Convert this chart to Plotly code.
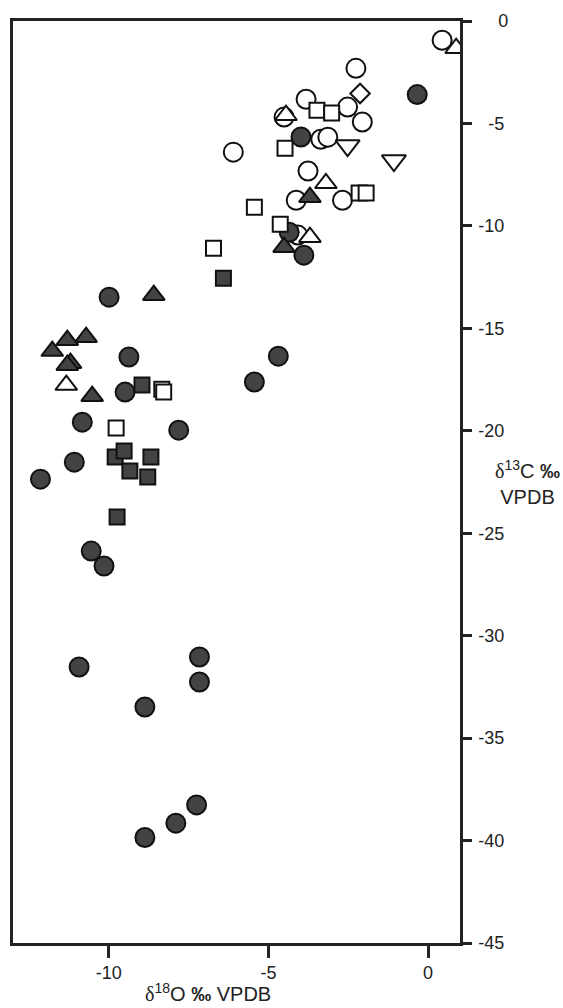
import plotly.graph_objects as go

# ---- data (δ18O, δ13C) ----
filled_circle_x = [-0.34, -3.98, -4.35, -3.89, -4.69, -5.44, -9.99, -9.37, -9.49, -10.83,
                   -7.81, -11.08, -12.14, -10.55, -10.15, -10.93, -7.16, -7.16, -8.87,
                   -7.25, -7.90, -8.87]
filled_circle_y = [-3.59, -5.66, -10.31, -11.43, -16.36, -17.62, -13.48, -16.40, -18.11, -19.58,
                   -19.97, -21.53, -22.36, -25.87, -26.60, -31.53, -31.04, -32.26, -33.48,
                   -38.26, -39.15, -39.85]

open_circle_x = [0.44, -2.26, -3.82, -2.52, -4.51, -2.06, -3.36, -3.14, -6.10, -3.76,
                 -4.13, -2.68, -4.08]
open_circle_y = [-0.94, -2.31, -3.82, -4.20, -4.69, -4.93, -5.77, -5.67, -6.40, -7.32,
                 -8.75, -8.75, -10.45]

filled_square_x = [-6.41, -8.96, -9.80, -9.52, -8.68, -9.34, -8.78, -9.74]
filled_square_y = [-12.55, -17.77, -21.28, -20.99, -21.28, -21.96, -22.26, -24.21]

open_square_x = [-3.48, -3.02, -4.48, -2.16, -1.94, -4.63, -5.44, -6.72, -8.34, -8.28, -9.77]
open_square_y = [-4.36, -4.49, -6.21, -8.39, -8.39, -9.92, -9.09, -11.09, -17.97, -18.11, -19.87]

filled_triangle_x = [-3.70, -4.51, -8.59, -11.77, -11.30, -10.71, -11.20, -11.30, -10.52]
filled_triangle_y = [-8.60, -11.04, -13.38, -16.11, -15.58, -15.43, -16.70, -16.80, -18.31]

open_triangle_x = [0.88, -4.45, -3.20, -3.70, -11.33]
open_triangle_y = [-1.33, -4.60, -7.92, -10.55, -17.77]

open_down_triangle_x = [-2.52, -1.07]
open_down_triangle_y = [-6.08, -6.81]

open_diamond_x = [-2.13]
open_diamond_y = [-3.54]

x_tick_vals = [-10, -5, 0]
x_tick_labels = ["-10", "-5", "0"]
y_tick_vals = [0, -5, -10, -15, -20, -25, -30, -35, -40, -45]
y_tick_labels = ["0", "-5", "-10", "-15", "-20", "-25", "-30", "-35", "-40", "-45"]

DARK = "#434343"
EDGE = "#111111"

fig = go.Figure()


def add(xs, ys, symbol, size, fill):
    fig.add_trace(go.Scatter(
        x=xs, y=ys, mode="markers", showlegend=False, hoverinfo="skip",
        marker=dict(symbol=symbol, size=size, color=fill,
                    line=dict(color=EDGE, width=2)),
    ))


add(open_circle_x, open_circle_y, "circle", 19, "white")
add(filled_circle_x, filled_circle_y, "circle", 19, DARK)
add(filled_square_x, filled_square_y, "square", 15, DARK)
add(open_square_x, open_square_y, "square", 15, "white")
add(filled_triangle_x, filled_triangle_y, "triangle-up", 19, DARK)
add(open_triangle_x, open_triangle_y, "triangle-up", 19, "white")
add(open_down_triangle_x, open_down_triangle_y, "triangle-down", 21, "white")
add(open_diamond_x, open_diamond_y, "diamond", 15, "white")

# right-align y tick labels with figure spaces
maxlen = max(len(s) for s in y_tick_labels)
y_tick_text = ["\u2007" * (maxlen - len(s)) + s for s in y_tick_labels]

FONT = "Liberation Sans, Arial, sans-serif"
AXCOL = "#222222"

fig.update_layout(
    width=563, height=1008,
    margin=dict(l=10, r=103, t=21, b=65),
    paper_bgcolor="white", plot_bgcolor="white",
    font=dict(family=FONT, size=18, color=AXCOL),
    xaxis=dict(range=[-13, 1], showgrid=False, zeroline=False,
               showline=True, linecolor=AXCOL, linewidth=2.5, mirror=True,
               ticks="outside", ticklen=12, tickwidth=2.5, tickcolor=AXCOL,
               tickvals=x_tick_vals, ticktext=x_tick_labels,
               tickfont=dict(size=18, color=AXCOL)),
    yaxis=dict(range=[-45, 0], side="right", showgrid=False, zeroline=False,
               showline=True, linecolor=AXCOL, linewidth=2.5, mirror=True,
               ticks="outside", ticklen=9, tickwidth=2.5, tickcolor=AXCOL,
               tickvals=y_tick_vals, ticktext=y_tick_text, ticklabelstandoff=3,
               tickfont=dict(size=18, color=AXCOL)),
)

DELTA = '<span style="font-family:Liberation Serif, Times New Roman, serif">δ</span>'

fig.add_annotation(
    text=DELTA + '<sup>18</sup>O <b>‰</b> VPDB',
    xref="paper", yref="paper", x=0.4356, y=-0.054,
    xanchor="center", yanchor="middle", showarrow=False,
    font=dict(size=20, color=AXCOL, family=FONT),
)
fig.add_annotation(
    text=DELTA + '<sup>13</sup>C <b>‰</b><br>VPDB',
    xref="paper", yref="paper", x=1.151, y=0.5,
    xanchor="center", yanchor="middle", showarrow=False,
    font=dict(size=20, color=AXCOL, family=FONT),
)

fig.write_html("out.html")
